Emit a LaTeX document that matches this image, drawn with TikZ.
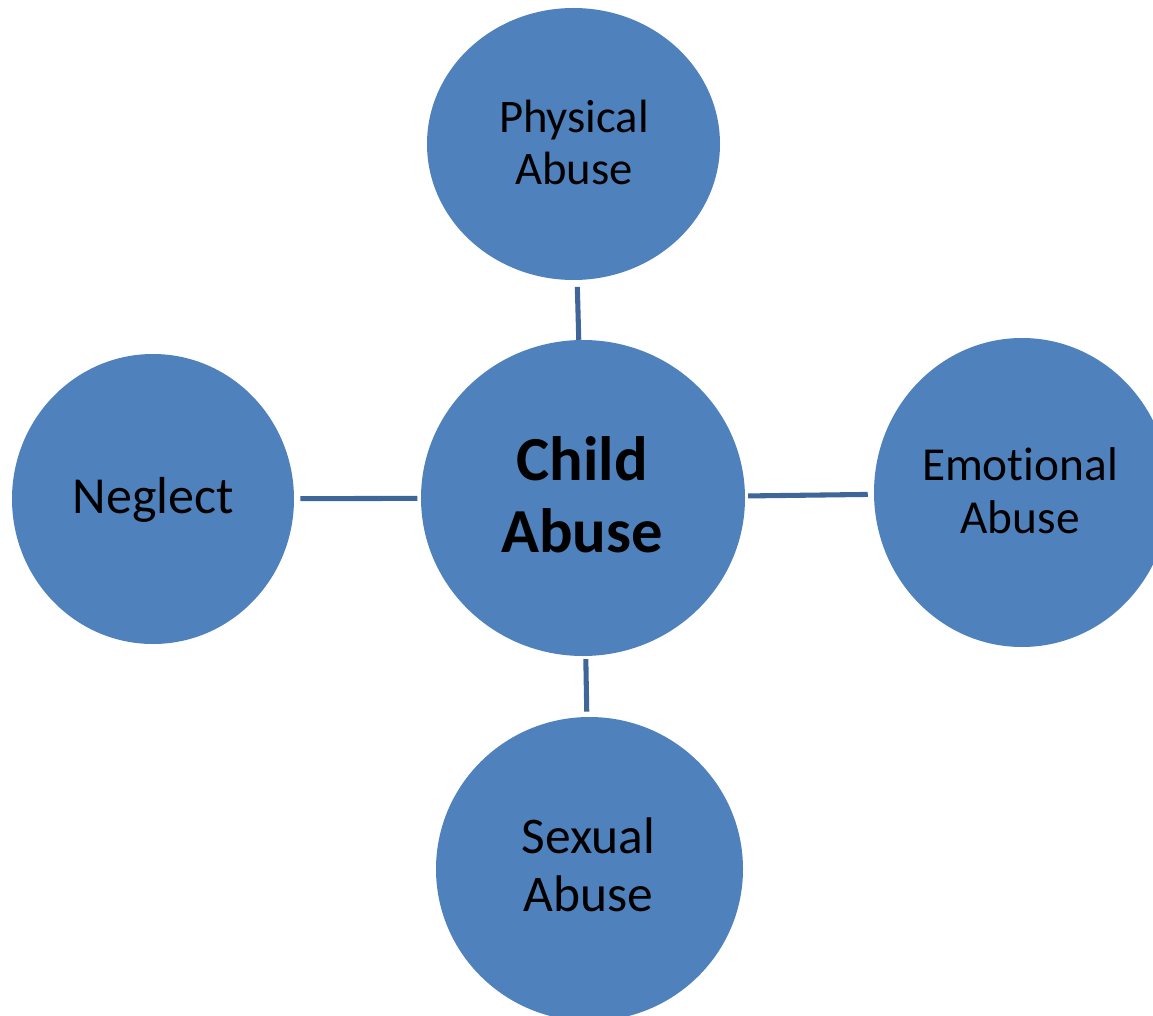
\documentclass[tikz,border=0pt]{standalone}
\usepackage{fontspec}
\setmainfont{Carlito}[RawFeature={-liga;-clig;-dlig}]
\usetikzlibrary{shapes.geometric}
\definecolor{bubble}{HTML}{4F81BD}
\definecolor{connc}{HTML}{3F6699}
\tikzset{
  bubble/.style={ellipse, fill=bubble, draw=none, inner sep=0pt},
  lbl/.style={inner sep=0pt, align=center, text=black},
  conn/.style={draw=connc, line width=3.8pt}
}
\begin{document}
\begin{tikzpicture}[x=0.75pt, y=-0.75pt]
\useasboundingbox (0,0) rectangle (1153,1016);
\clip (0,0) rectangle (1153,1016);
% bubbles
\node[bubble, minimum width=219.75pt, minimum height=204pt] (phys) at (573.5,144) {};
\node[bubble, minimum width=243pt, minimum height=237pt] (child) at (583,498) {};
\node[bubble, minimum width=211.5pt, minimum height=217.5pt] (negl) at (153,499) {};
\node[bubble, minimum width=222pt, minimum height=231.75pt] (emo) at (1022,492.5) {};
\node[bubble, minimum width=230.25pt, minimum height=228pt] (sex) at (589.5,869) {};
% labels
\node[lbl, font=\fontsize{35pt}{39pt}\selectfont] (tphys) at (574,142) {Physical\\Abuse};
\node[lbl, font=\fontsize{47pt}{54pt}\selectfont\bfseries] (tchild) at (582,494.5) {Child\\Abuse};
\node[lbl, font=\fontsize{39pt}{44pt}\selectfont] (tnegl) at (153.5,500) {Neglect};
\node[lbl, font=\fontsize{35.5pt}{40pt}\selectfont] (temo) at (1020,490.5) {Emotional\\Abuse};
\node[lbl, font=\fontsize{38.6pt}{44pt}\selectfont] (tsex) at (588.5,864.8) {Sexual\\Abuse};
% connectors
\draw[conn, shorten <=5pt, shorten >=0pt] (phys) -- (child);
\draw[conn, shorten <=4.5pt, shorten >=2.6pt] (negl) -- (child);
\draw[conn, shorten <=2.2pt, shorten >=4.5pt] (child) -- (emo);
\draw[conn, shorten <=2.2pt, shorten >=3.8pt] (child) -- (sex);
\end{tikzpicture}
\end{document}
